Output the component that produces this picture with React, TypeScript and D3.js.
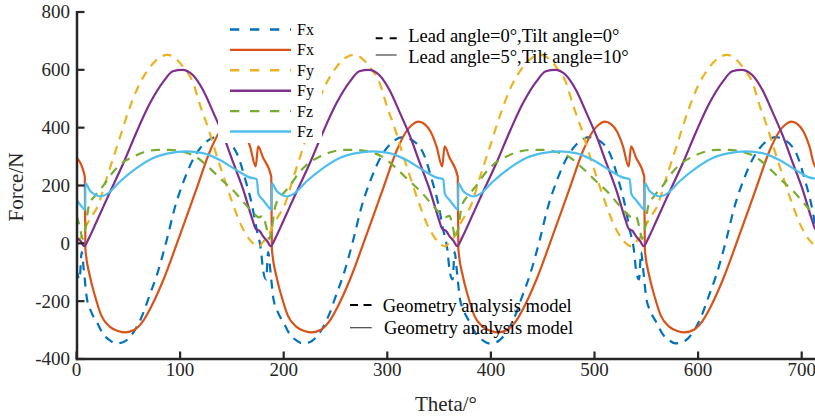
import { useRef, useEffect } from "react";
import * as d3 from "d3";

const thetaTicks = [0, 100, 200, 300, 400, 500, 600, 700];
const forceTicks = [-400, -200, 0, 200, 400, 600, 800];

// [theta, force], four cycles of 180 deg each
const fxLead0 = [
  [0, -90], [3, -125], [5, -30], [7, -90], [10, -190], [14, -235], [20, -275], [26, -315], [32, -335], [38, -346], [45, -342], [52, -322], [58, -290], [64, -245], [70, -185], [78, -105], [87, 10], [95, 125], [104, 220], [114, 300], [124, 347], [135, 367], [146, 352], [156, 301], [163, 220], [169, 139], [174, 47], [178, -22],
  [180, -90], [183, -125], [185, -30], [187, -90], [190, -190], [194, -235], [200, -275], [206, -315], [212, -335], [218, -346], [225, -342], [232, -322], [238, -290], [244, -245], [250, -185], [258, -105], [267, 10], [275, 125], [284, 220], [294, 300], [304, 347], [315, 367], [326, 352], [336, 301], [343, 220], [349, 139], [354, 47], [358, -22],
  [360, -90], [363, -125], [365, -30], [367, -90], [370, -190], [374, -235], [380, -275], [386, -315], [392, -335], [398, -346], [405, -342], [412, -322], [418, -290], [424, -245], [430, -185], [438, -105], [447, 10], [455, 125], [464, 220], [474, 300], [484, 347], [495, 367], [506, 352], [516, 301], [523, 220], [529, 139], [534, 47], [538, -22],
  [540, -90], [543, -125], [545, -30], [547, -90], [550, -190], [554, -235], [560, -275], [566, -315], [572, -335], [578, -346], [585, -342], [592, -322], [598, -290], [604, -245], [610, -185], [618, -105], [627, 10], [635, 125], [644, 220], [654, 300], [664, 347], [675, 367], [686, 352], [696, 301], [703, 220], [709, 139], [714, 47], [718, -22], [720, -90],
];

const fxLead5 = [
  [0, 297], [8, 231], [8.6, -20], [13, -115], [18, -184], [24, -250], [32, -288], [40, -303], [47, -308], [56, -299], [64, -270], [72, -220], [84, -125], [100, 30], [116, 190], [129, 320], [138, 385], [144, 410], [150, 421], [156, 412], [162, 385], [167.5, 335], [173, 266], [175.3, 335],
  [180, 297], [188, 231], [188.6, -20], [193, -115], [198, -184], [204, -250], [212, -288], [220, -303], [227, -308], [236, -299], [244, -270], [252, -220], [264, -125], [280, 30], [296, 190], [309, 320], [318, 385], [324, 410], [330, 421], [336, 412], [342, 385], [347.5, 335], [353, 266], [355.3, 335],
  [360, 297], [368, 231], [368.6, -20], [373, -115], [378, -184], [384, -250], [392, -288], [400, -303], [407, -308], [416, -299], [424, -270], [432, -220], [444, -125], [460, 30], [476, 190], [489, 320], [498, 385], [504, 410], [510, 421], [516, 412], [522, 385], [527.5, 335], [533, 266], [535.3, 335],
  [540, 297], [548, 231], [548.6, -20], [553, -115], [558, -184], [564, -250], [572, -288], [580, -303], [587, -308], [596, -299], [604, -270], [612, -220], [624, -125], [640, 30], [656, 190], [669, 320], [678, 385], [684, 410], [690, 421], [696, 412], [702, 385], [707.5, 335], [713, 266], [715.3, 335], [720, 297],
];

const fyLead0 = [
  [0, 5], [5, 25], [10, 65], [15, 95], [20, 125], [30, 235], [40, 345], [50, 455], [60, 545], [70, 605], [80, 642], [88, 652], [96, 638], [104, 605], [112, 560], [120, 470], [127, 400], [133, 330], [142, 230], [150, 145], [158, 70], [166, 18], [172, -5], [176, -11],
  [180, 5], [185, 25], [190, 65], [195, 95], [200, 125], [210, 235], [220, 345], [230, 455], [240, 545], [250, 605], [260, 642], [268, 652], [276, 638], [284, 605], [292, 560], [300, 470], [307, 400], [313, 330], [322, 230], [330, 145], [338, 70], [346, 18], [352, -5], [356, -11],
  [360, 5], [365, 25], [370, 65], [375, 95], [380, 125], [390, 235], [400, 345], [410, 455], [420, 545], [430, 605], [440, 642], [448, 652], [456, 638], [464, 605], [472, 560], [480, 470], [487, 400], [493, 330], [502, 230], [510, 145], [518, 70], [526, 18], [532, -5], [536, -11],
  [540, 5], [545, 25], [550, 65], [555, 95], [560, 125], [570, 235], [580, 345], [590, 455], [600, 545], [610, 605], [620, 642], [628, 652], [636, 638], [644, 605], [652, 560], [660, 470], [667, 400], [673, 330], [682, 230], [690, 145], [698, 70], [706, 18], [712, -5], [716, -11], [720, 5],
];

const fyLead5 = [
  [0, 20], [4, 8], [7.5, -10], [12, 18], [20, 80], [32, 175], [45, 275], [58, 385], [71, 485], [84, 560], [93, 595], [102, 600], [112, 583], [122, 531], [132, 453], [142, 370], [151.5, 277], [161, 185], [170, 80], [173, 50], [177, 42],
  [180, 25], [184, 8], [187.5, -10], [192, 18], [200, 80], [212, 175], [225, 275], [238, 385], [251, 485], [264, 560], [273, 595], [282, 600], [292, 583], [302, 531], [312, 453], [322, 370], [331.5, 277], [341, 185], [350, 80], [353, 50], [357, 42],
  [360, 25], [364, 8], [367.5, -10], [372, 18], [380, 80], [392, 175], [405, 275], [418, 385], [431, 485], [444, 560], [453, 595], [462, 600], [472, 583], [482, 531], [492, 453], [502, 370], [511.5, 277], [521, 185], [530, 80], [533, 50], [537, 42],
  [540, 25], [544, 8], [547.5, -10], [552, 18], [560, 80], [572, 175], [585, 275], [598, 385], [611, 485], [624, 560], [633, 595], [642, 600], [652, 583], [662, 531], [672, 453], [682, 370], [691.5, 277], [701, 185], [710, 80], [713, 50], [717, 42], [720, 25],
];

const fzLead0 = [
  [0, 95], [3, 60], [6, 15], [8, 40], [12, 130], [18, 165], [25, 195], [35, 245], [45, 280], [55, 300], [65, 315], [78, 323], [90, 323], [103, 316], [115, 300], [127, 265], [140, 220], [152, 180], [163, 135], [172, 100], [176, 90],
  [180, 95], [183, 60], [186, 15], [188, 40], [192, 130], [198, 165], [205, 195], [215, 245], [225, 280], [235, 300], [245, 315], [258, 323], [270, 323], [283, 316], [295, 300], [307, 265], [320, 220], [332, 180], [343, 135], [352, 100], [356, 90],
  [360, 95], [363, 60], [366, 15], [368, 40], [372, 130], [378, 165], [385, 195], [395, 245], [405, 280], [415, 300], [425, 315], [438, 323], [450, 323], [463, 316], [475, 300], [487, 265], [500, 220], [512, 180], [523, 135], [532, 100], [536, 90],
  [540, 95], [543, 60], [546, 15], [548, 40], [552, 130], [558, 165], [565, 195], [575, 245], [585, 280], [595, 300], [605, 315], [618, 323], [630, 323], [643, 316], [655, 300], [667, 265], [680, 220], [692, 180], [703, 135], [712, 100], [716, 90], [720, 95],
];

const fzLead5 = [
  [0, 150], [4, 132], [8.3, 116], [8.6, 208], [13, 182], [17, 170], [23, 162], [30, 172], [42, 214], [58, 260], [74, 295], [90, 312], [106, 318], [122, 312], [138, 289], [154, 254], [167, 228], [174, 222], [175.5, 172],
  [180, 150], [184, 132], [188.3, 116], [188.6, 208], [193, 182], [197, 170], [203, 162], [210, 172], [222, 214], [238, 260], [254, 295], [270, 312], [286, 318], [302, 312], [318, 289], [334, 254], [347, 228], [354, 222], [355.5, 172],
  [360, 150], [364, 132], [368.3, 116], [368.6, 208], [373, 182], [377, 170], [383, 162], [390, 172], [402, 214], [418, 260], [434, 295], [450, 312], [466, 318], [482, 312], [498, 289], [514, 254], [527, 228], [534, 222], [535.5, 172],
  [540, 150], [544, 132], [548.3, 116], [548.6, 208], [553, 182], [557, 170], [563, 162], [570, 172], [582, 214], [598, 260], [614, 295], [630, 312], [646, 318], [662, 312], [678, 289], [694, 254], [707, 228], [714, 222], [715.5, 172], [720, 150],
];

const seriesData = [fxLead0, fxLead5, fyLead0, fyLead5, fzLead0, fzLead5];
const seriesNames = ["Fx", "Fx", "Fy", "Fy", "Fz", "Fz"];
const seriesColors = ["#0072BD", "#D95319", "#EDB120", "#7E2F8E", "#77AC30", "#4DBEEE"];
const seriesDashed = [true, false, true, false, true, false];
const caseLabels = ["Lead angle=0°,Tilt angle=0°", "Lead angle=5°,Tilt angle=10°"];
const modelLabels = ["Geometry analysis model", "Geometry analysis model"];

const FONT = "'Liberation Serif', 'Times New Roman', serif";

export default function App() {
  const ref = useRef(null);

  useEffect(() => {
    const svg = d3.select(ref.current);
    svg.selectAll("*").remove();

    const width = 815;
    const height = 417;
    const left = 77;
    const bottom = 359;
    const top = 12;

    svg.attr("width", width).attr("height", height);

    const x = d3.scaleLinear().domain([0, 700]).range([76.5, 801.7]);
    const y = d3.scaleLinear().domain([-400, 800]).range([bottom, top]);

    svg.append("defs").append("clipPath").attr("id", "plotclip")
      .append("rect")
      .attr("x", left).attr("y", 0)
      .attr("width", width - left).attr("height", bottom);

    const line = d3.line()
      .x(d => x(d[0]))
      .y(d => y(d[1]))
      .curve(d3.curveMonotoneX);

    const curves = svg.append("g").attr("clip-path", "url(#plotclip)");
    seriesData.forEach((data, i) => {
      curves.append("path")
        .attr("d", line(data))
        .attr("fill", "none")
        .attr("stroke", seriesColors[i])
        .attr("stroke-width", 2.2)
        .attr("stroke-dasharray", seriesDashed[i] ? "9,7" : null);
    });

    // series legend (white box, hides the curves behind it)
    const leg = svg.append("g");
    leg.append("rect")
      .attr("x", 218).attr("y", 17)
      .attr("width", 104).attr("height", 126)
      .attr("fill", "#fff");
    seriesNames.forEach((name, i) => {
      const ly = 29.5 + i * 20.4;
      leg.append("line")
        .attr("x1", 230).attr("x2", 291)
        .attr("y1", ly).attr("y2", ly)
        .attr("stroke", seriesColors[i])
        .attr("stroke-width", 2.4)
        .attr("stroke-dasharray", seriesDashed[i] ? "9.3,10.7" : null);
      leg.append("text")
        .attr("x", 297).attr("y", ly + 5.5)
        .attr("font-family", FONT)
        .attr("font-size", 16)
        .attr("fill", "#000")
        .text(name);
    });

    // case legend
    caseLabels.forEach((label, i) => {
      const ly = i === 0 ? 38.3 : 55;
      svg.append("line")
        .attr("x1", 375.7).attr("x2", 396.7)
        .attr("y1", ly).attr("y2", ly)
        .attr("stroke", i === 0 ? "#000" : "#444")
        .attr("stroke-width", i === 0 ? 2 : 1.2)
        .attr("stroke-dasharray", i === 0 ? "7,7" : null);
      svg.append("text")
        .attr("x", 408.3).attr("y", i === 0 ? 41.7 : 63.3)
        .attr("font-family", FONT)
        .attr("font-size", 18.5)
        .attr("fill", "#000")
        .text(label);
    });

    // model legend
    modelLabels.forEach((label, i) => {
      const ly = i === 0 ? 305 : 327.7;
      svg.append("line")
        .attr("x1", 350).attr("x2", 371.7)
        .attr("y1", ly).attr("y2", ly)
        .attr("stroke", i === 0 ? "#000" : "#444")
        .attr("stroke-width", i === 0 ? 2 : 1.2)
        .attr("stroke-dasharray", i === 0 ? "8,5.5" : null);
      svg.append("text")
        .attr("x", i === 0 ? 382.7 : 384).attr("y", i === 0 ? 311.7 : 334)
        .attr("font-family", FONT)
        .attr("font-size", 18.5)
        .attr("fill", "#000")
        .text(label);
    });

    // axes
    const axis = svg.append("g").attr("stroke", "#262626");
    axis.append("line")
      .attr("x1", left).attr("x2", left)
      .attr("y1", top - 1).attr("y2", bottom + 1.2)
      .attr("stroke-width", 2.5);
    axis.append("line")
      .attr("x1", left - 1.2).attr("x2", width)
      .attr("y1", bottom).attr("y2", bottom)
      .attr("stroke-width", 2.5);

    forceTicks.forEach(t => {
      axis.append("line")
        .attr("x1", left).attr("x2", left + 7.5)
        .attr("y1", y(t)).attr("y2", y(t))
        .attr("stroke-width", 2.2);
      svg.append("text")
        .attr("x", 70).attr("y", y(t))
        .attr("dy", "0.34em")
        .attr("text-anchor", "end")
        .attr("font-family", FONT)
        .attr("font-size", 19)
        .attr("fill", "#262626")
        .text(t);
    });

    thetaTicks.forEach(t => {
      axis.append("line")
        .attr("x1", x(t)).attr("x2", x(t))
        .attr("y1", bottom).attr("y2", bottom - 7.5)
        .attr("stroke-width", 2.2);
      svg.append("text")
        .attr("x", x(t)).attr("y", 376)
        .attr("text-anchor", "middle")
        .attr("font-family", FONT)
        .attr("font-size", 19)
        .attr("fill", "#262626")
        .text(t);
    });

    svg.append("text")
      .attr("x", 446).attr("y", 411)
      .attr("text-anchor", "middle")
      .attr("font-family", FONT)
      .attr("font-size", 21)
      .attr("fill", "#262626")
      .text("Theta/°");

    svg.append("text")
      .attr("transform", "translate(23,187) rotate(-90)")
      .attr("text-anchor", "middle")
      .attr("font-family", FONT)
      .attr("font-size", 21)
      .attr("fill", "#262626")
      .text("Force/N");
  }, []);

  return (
    <svg
      ref={ref}
      style={{ position: "absolute", left: 0, top: 0, background: "#fff" }}
    ></svg>
  );
}
